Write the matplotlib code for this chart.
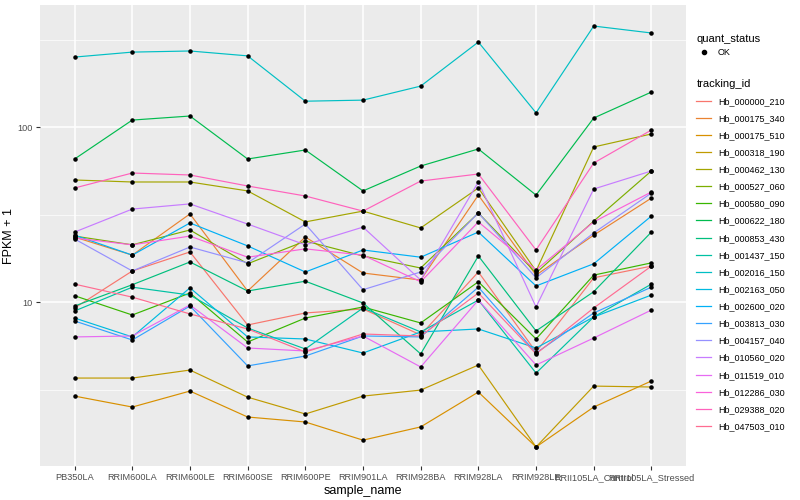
import matplotlib
matplotlib.use("Agg")
import matplotlib.pyplot as plt
from matplotlib.lines import Line2D
import numpy as np

plt.rcParams['font.family'] = ['Liberation Sans', 'DejaVu Sans']

samples = ["PB350LA", "RRIM600LA", "RRIM600LE", "RRIM600SE", "RRIM600PE", "RRIM901LA",
           "RRIM928BA", "RRIM928LA", "RRIM928LE", "RRII105LA_Control", "RRII105LA_Stressed"]

# FPKM + 1 per gene, one value per sample
Hb_000000_210 = [9.28, 15.1, 19.4, 7.42, 8.69, 9.16, 6.51, 14.9, 5.20, 13.8, 16.1]
Hb_000175_340 = [23.6, 18.6, 32.0, 11.6, 23.6, 14.7, 13.4, 41.0, 14.3, 24.2, 39.4]
Hb_000175_510 = [2.91, 2.52, 3.11, 2.21, 2.07, 1.63, 1.94, 3.07, 1.49, 2.52, 3.55]
Hb_000318_190 = [3.69, 3.69, 4.10, 2.87, 2.30, 2.91, 3.15, 4.38, 1.49, 3.32, 3.28]
Hb_000462_130 = [50.0, 48.7, 48.7, 43.3, 28.8, 33.2, 26.6, 45.0, 15.1, 77.2, 91.6]
Hb_000527_060 = [23.9, 21.3, 25.9, 16.6, 22.4, 18.4, 15.7, 32.4, 14.7, 29.1, 56.3]
Hb_000580_090 = [10.9, 8.46, 11.3, 5.93, 8.13, 9.40, 7.62, 13.1, 6.17, 14.3, 16.8]
Hb_000622_180 = [65.9, 110, 116, 65.9, 74.2, 43.3, 60.1, 75.2, 41.0, 113, 159]
Hb_000853_430 = [9.52, 12.6, 17.0, 11.6, 13.2, 9.91, 5.07, 18.4, 6.86, 11.5, 25.2]
Hb_001437_150 = [8.92, 12.2, 11.0, 7.13, 5.41, 9.28, 6.77, 10.3, 3.94, 8.24, 12.7]
Hb_002016_150 = [252, 269, 273, 256, 141, 143, 172, 307, 121, 379, 346]
Hb_002163_050 = [8.13, 6.34, 12.1, 6.34, 6.17, 5.13, 6.77, 7.04, 5.48, 8.24, 11.0]
Hb_002600_020 = [24.2, 18.6, 28.4, 21.0, 14.9, 19.9, 18.1, 25.2, 12.4, 16.6, 31.1]
Hb_003813_030 = [7.82, 6.09, 9.52, 4.33, 4.93, 6.42, 6.34, 12.2, 5.13, 8.69, 12.2]
Hb_004157_040 = [23.0, 15.1, 20.7, 16.8, 28.0, 11.8, 14.9, 32.4, 13.8, 24.9, 42.1]
Hb_010560_020 = [25.2, 34.1, 36.5, 28.0, 21.3, 26.9, 13.4, 48.7, 9.40, 44.4, 56.3]
Hb_011519_010 = [6.34, 6.42, 9.65, 5.48, 5.27, 6.42, 4.27, 10.3, 4.38, 6.25, 9.03]
Hb_012286_030 = [23.3, 21.3, 23.9, 18.1, 20.2, 18.6, 13.1, 28.8, 15.3, 28.8, 42.7]
Hb_029388_020 = [45.0, 54.8, 53.4, 46.2, 40.5, 33.2, 49.3, 54.1, 19.9, 62.5, 96.5]
Hb_047503_010 = [12.7, 10.7, 8.58, 7.04, 5.20, 6.59, 6.42, 11.3, 5.07, 9.28, 16.1]

genes = {
    "Hb_000000_210": Hb_000000_210, "Hb_000175_340": Hb_000175_340,
    "Hb_000175_510": Hb_000175_510, "Hb_000318_190": Hb_000318_190,
    "Hb_000462_130": Hb_000462_130, "Hb_000527_060": Hb_000527_060,
    "Hb_000580_090": Hb_000580_090, "Hb_000622_180": Hb_000622_180,
    "Hb_000853_430": Hb_000853_430, "Hb_001437_150": Hb_001437_150,
    "Hb_002016_150": Hb_002016_150, "Hb_002163_050": Hb_002163_050,
    "Hb_002600_020": Hb_002600_020, "Hb_003813_030": Hb_003813_030,
    "Hb_004157_040": Hb_004157_040, "Hb_010560_020": Hb_010560_020,
    "Hb_011519_010": Hb_011519_010, "Hb_012286_030": Hb_012286_030,
    "Hb_029388_020": Hb_029388_020, "Hb_047503_010": Hb_047503_010,
}

# ggplot hue palette for 20 levels
colors = ["#F8766D", "#EA8331", "#D89000", "#C09B00", "#A3A500", "#7CAE00", "#39B600",
          "#00BB4E", "#00BF7D", "#00C1A3", "#00BFC4", "#00BAE0", "#00B0F6", "#35A2FF",
          "#9590FF", "#C77CFF", "#E76BF3", "#FA62DB", "#FF62BC", "#FF6C91"]

fig = plt.figure(figsize=(8, 5), dpi=100)
ax = fig.add_axes([0.05, 0.068, 0.8075, 0.922])
ax.set_facecolor("#EBEBEB")

x = np.arange(len(samples))
handles = []
for (name, vals), c in zip(genes.items(), colors):
    ax.plot(x, vals, color=c, lw=0.85, zorder=2)
    ax.scatter(x, vals, s=5, color="black", zorder=3)
    handles.append(Line2D([], [], color=c, lw=0.9, label=name))

ax.set_yscale("log")
ax.set_ylim(1.16, 500)
ax.set_xlim(-0.6, 10.6)
ax.set_yticks([10, 100])
ax.set_yticklabels(["10", "100"])
ax.set_yticks([10 ** 0.5, 10 ** 1.5, 10 ** 2.5], minor=True)
ax.yaxis.set_minor_formatter(plt.NullFormatter())
ax.set_xticks(x)
ax.set_xticklabels(samples)

ax.grid(which="major", color="white", lw=1.1, zorder=0)
ax.grid(which="minor", axis="y", color="white", lw=0.5, zorder=0)
ax.set_axisbelow(True)
for s in ax.spines.values():
    s.set_visible(False)
ax.tick_params(which="major", length=3, color="#333333", labelsize=6.6, labelcolor="#4D4D4D", pad=2)
ax.tick_params(which="minor", length=0)

ax.set_xlabel("sample_name", fontsize=9, labelpad=2)
ax.set_ylabel("FPKM + 1", fontsize=9, labelpad=2)

leg1 = fig.legend(handles=[Line2D([], [], marker="o", ls="none", color="black", markersize=3, label="OK")],
                  title="quant_status", loc="upper left", bbox_to_anchor=(0.866, 0.94),
                  frameon=False, fontsize=6.5, title_fontsize=8, alignment="left",
                  handlelength=1.6, borderaxespad=0)
leg2 = fig.legend(handles=handles, title="tracking_id", loc="upper left",
                  bbox_to_anchor=(0.866, 0.85), frameon=False, fontsize=6.5,
                  title_fontsize=8, alignment="left", handlelength=1.6,
                  labelspacing=0.9, borderaxespad=0)

fig.savefig("out.png")
